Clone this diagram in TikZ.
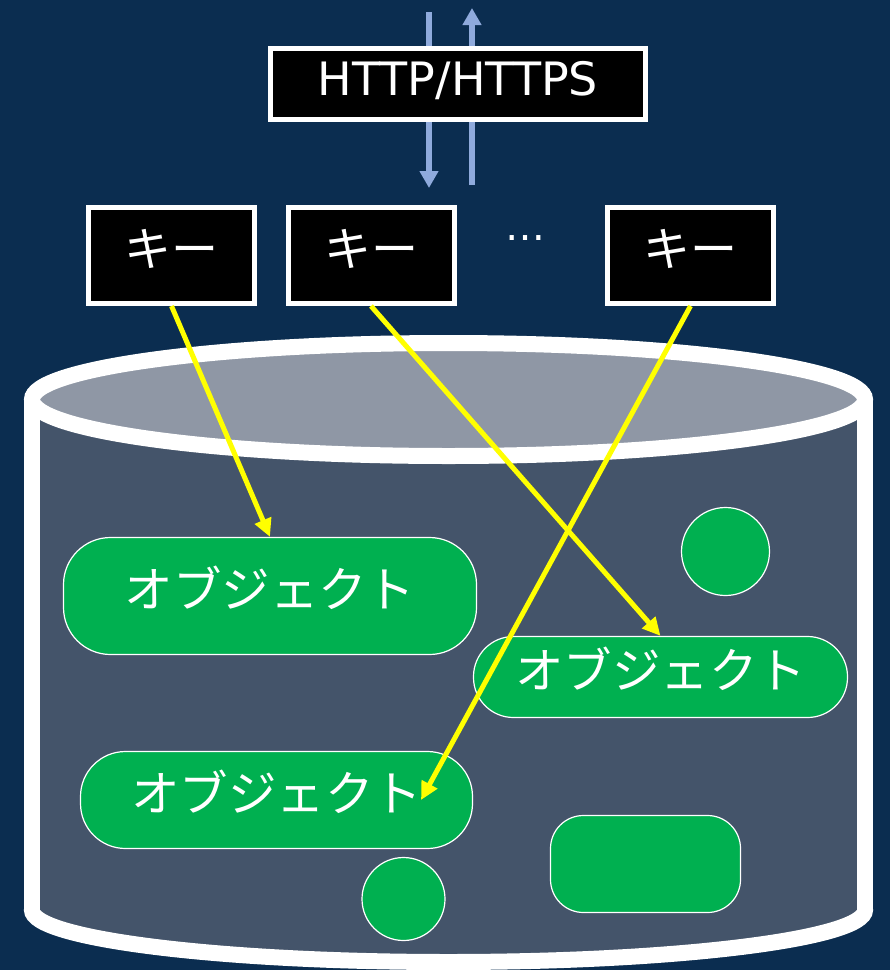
\documentclass[tikz,border=0pt]{standalone}
\usepackage{fontspec}
\setmainfont{DejaVu Sans}
\newfontfamily\cjk{Noto Sans CJK JP}
\usetikzlibrary{arrows.meta}
\definecolor{bg}{RGB}{11,45,80}
\definecolor{cylbody}{RGB}{68,84,106}
\definecolor{cyltop}{RGB}{143,151,165}
\definecolor{objgreen}{RGB}{0,176,80}
\definecolor{netblue}{RGB}{143,170,220}
\definecolor{refyellow}{RGB}{255,255,0}
\begin{document}
\begin{tikzpicture}[x=1pt,y=-1pt,
  blackbox/.style={draw=white, line width=5pt, fill=black, text=white, inner sep=0pt,
    text height=36pt, text depth=14pt, font=\fontsize{46}{50}\selectfont},
  keybox/.style={blackbox, minimum width=166pt, minimum height=96pt, font=\cjk\fontsize{47}{50}\selectfont},
  obj/.style={draw=white, line width=1.2pt, fill=objgreen, text=white, rounded corners=#1, inner sep=0pt,
    text height=36pt, text depth=14pt, font=\cjk\fontsize{48.5}{50}\selectfont},
  blob/.style={draw=white, line width=1.2pt, fill=objgreen, circle, inner sep=0pt},
  netarrow/.style={draw=netblue, line width=5.5pt, -{Triangle[length=17pt,width=18pt]}},
  yarrow/.style={draw=refyellow, line width=5pt, -{Triangle[length=18pt,width=17pt]}},
  rim/.style={draw=white, line width=16pt}
]
\fill[bg] (0,0) rectangle (890,970);
\useasboundingbox (0,0) rectangle (890,970);

% cylinder
\filldraw[rim, fill=cylbody] (448.5,910) ellipse [x radius=416.5, y radius=52];
\fill[cylbody] (32,400) rectangle (865,910);
\draw[rim] (32,400) -- (32,910);
\draw[rim] (865,400) -- (865,910);
\filldraw[rim, fill=cyltop] (448.5,399.5) ellipse [x radius=416.5, y radius=56.5];

% network arrows
\coordinate (dtop) at (429,12);
\coordinate (dbot) at (429,188);
\coordinate (ubot) at (472,185);
\coordinate (utop) at (472,8);
\draw[netarrow] (dtop) -- (dbot);
\draw[netarrow] (ubot) -- (utop);

\node[blackbox, minimum width=375pt, minimum height=71pt] (http) at (458,84) {HTTP/HTTPS};

% keys
\node[keybox] (k1) at (171.5,255.5) {キー};
\node[keybox] (k2) at (371,255.5) {キー};
\node[keybox] (k3) at (690.5,255.5) {キー};
\node[text=white, inner sep=0pt, font=\fontsize{40}{40}\selectfont] (dots) at (525,238) {…};

% objects
\node[obj=47pt, minimum width=413pt, minimum height=117pt] (o1) at (270,596) {オブジェクト};
\node[blob, minimum size=88pt] (c1) at (725.5,551.5) {};
\node[obj=40pt, minimum width=374pt, minimum height=81pt] (o2) at (660.5,677) {オブジェクト};
\node[obj=45pt, minimum width=392pt, minimum height=97pt] (o3) at (276.5,800) {オブジェクト};
\node[blob, minimum size=83pt] (c2) at (403.5,899) {};
\node[obj=33pt, minimum width=190pt, minimum height=97pt] (o4) at (645.5,864) {};

% key -> object arrows
\coordinate (o3hit) at (421,800);
\draw[yarrow] (k1.south) -- (o1.north);
\draw[yarrow] (k2.south) -- (o2.north);
\draw[yarrow] (k3.south) -- (o3hit);
\end{tikzpicture}
\end{document}
